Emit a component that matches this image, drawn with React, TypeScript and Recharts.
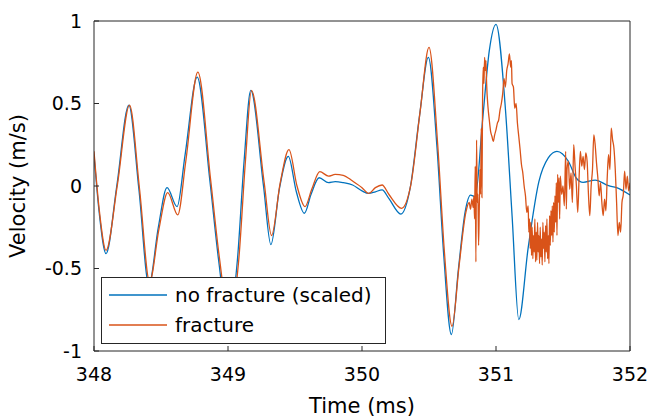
import React from 'react';
import { LineChart, Line, XAxis, YAxis, Legend } from 'recharts';

// [time (ms), velocity (m/s)]
const noFracture: [number, number][] = [
  [348.0, 0.19], [348.04, -0.17], [348.09, -0.41], [348.17, 0.0], [348.26, 0.49],
  [348.335, -0.02], [348.41, -0.6], [348.48, -0.25], [348.545, -0.01], [348.62, -0.125],
  [348.68, 0.19], [348.77, 0.66], [348.865, 0.03], [348.93, -0.45], [349.0, -0.82],
  [349.07, -0.45], [349.12, 0.15], [349.17, 0.58], [349.265, 0.0], [349.32, -0.355],
  [349.385, -0.01], [349.45, 0.18], [349.51, -0.035], [349.57, -0.165], [349.62, -0.05],
  [349.68, 0.05], [349.75, 0.02], [349.8, 0.026], [349.86, 0.02], [349.93, 0.006],
  [350.0, -0.03], [350.05, -0.045], [350.1, -0.035], [350.15, -0.024], [350.2, -0.075],
  [350.29, -0.17], [350.36, -0.01], [350.43, 0.43], [350.495, 0.78], [350.56, 0.23],
  [350.61, -0.42], [350.667, -0.9], [350.72, -0.5], [350.77, -0.155], [350.81, -0.055],
  [350.845, -0.065], [350.9, 0.4], [350.95, 0.82], [351.0, 0.98], [351.07, 0.47],
  [351.12, -0.18], [351.17, -0.81], [351.24, -0.375], [351.32, 0.026], [351.39, 0.17],
  [351.455, 0.21], [351.54, 0.15], [351.6, 0.047], [351.65, 0.022], [351.74, 0.036],
  [351.84, 0.002], [351.9, -0.01], [352.0, -0.055],
];

const fracture: [number, number][] = [
  [348.0, 0.21], [348.04, -0.15], [348.09, -0.39], [348.175, 0.01], [348.265, 0.49],
  [348.34, -0.02], [348.415, -0.58], [348.485, -0.26], [348.55, -0.04], [348.625, -0.175],
  [348.685, 0.15], [348.775, 0.69], [348.87, 0.04], [348.935, -0.43], [349.01, -0.8],
  [349.08, -0.45], [349.13, 0.15], [349.175, 0.58], [349.27, 0.02], [349.325, -0.3],
  [349.39, 0.02], [349.455, 0.22], [349.515, 0.0], [349.575, -0.125], [349.625, -0.02],
  [349.685, 0.087], [349.75, 0.06], [349.8, 0.07], [349.86, 0.065], [349.93, 0.03],
  [350.0, -0.01], [350.05, -0.045], [350.1, -0.01], [350.15, 0.006], [350.2, -0.05],
  [350.295, -0.135], [350.365, 0.01], [350.435, 0.46], [350.5, 0.84], [350.565, 0.25],
  [350.615, -0.4], [350.672, -0.85], [350.725, -0.48], [350.775, -0.16],
  // noisy part after the fracture
  [350.8, -0.1], [350.81, -0.14], [350.82, -0.08], [350.83, -0.13], [350.835, -0.06],
  [350.84, -0.2], [350.845, 0.12], [350.85, -0.46], [350.855, 0.28], [350.86, -0.1],
  [350.865, -0.05], [350.87, -0.36], [350.875, -0.15], [350.88, 0.1], [350.885, -0.05],
  [350.89, 0.35], [350.895, -0.07], [350.9, 0.55], [350.905, 0.72], [350.91, 0.62],
  [350.915, 0.78], [350.92, 0.7], [350.925, 0.76], [350.93, 0.62], [350.94, 0.48],
  [350.95, 0.4], [350.96, 0.33], [350.97, 0.3], [350.98, 0.27], [350.99, 0.31],
  [351.0, 0.34], [351.01, 0.38], [351.02, 0.4], [351.03, 0.46], [351.04, 0.5],
  [351.05, 0.56], [351.06, 0.65], [351.07, 0.6], [351.08, 0.7], [351.09, 0.74],
  [351.1, 0.8], [351.11, 0.72], [351.115, 0.76], [351.12, 0.62], [351.13, 0.6],
  [351.14, 0.47], [351.15, 0.5], [351.16, 0.38], [351.17, 0.3], [351.18, 0.22],
  [351.19, 0.13], [351.2, 0.08], [351.21, 0.0], [351.22, -0.06], [351.23, -0.16],
  [351.24, -0.12], [351.245, -0.28], [351.25, -0.2], [351.255, -0.38], [351.26, -0.22],
  [351.265, -0.42], [351.27, -0.25], [351.275, -0.44], [351.28, -0.3], [351.285, -0.4],
  [351.29, -0.2], [351.295, -0.46], [351.3, -0.28], [351.305, -0.45], [351.31, -0.22],
  [351.315, -0.4], [351.32, -0.3], [351.325, -0.47], [351.33, -0.25], [351.335, -0.43],
  [351.34, -0.32], [351.345, -0.48], [351.35, -0.22], [351.355, -0.38], [351.36, -0.28],
  [351.365, -0.46], [351.37, -0.24], [351.375, -0.4], [351.38, -0.2], [351.385, -0.44],
  [351.39, -0.3], [351.395, -0.47], [351.4, -0.18], [351.405, -0.36], [351.41, -0.15],
  [351.415, -0.3], [351.42, -0.12], [351.425, -0.34], [351.43, -0.1], [351.435, -0.28],
  [351.44, -0.06], [351.445, -0.22], [351.45, 0.02], [351.455, -0.3], [351.46, 0.07],
  [351.465, -0.1], [351.47, 0.05], [351.475, -0.2], [351.48, 0.06], [351.49, -0.05],
  [351.5, 0.0], [351.51, -0.12], [351.52, 0.21], [351.525, -0.14], [351.53, 0.1],
  [351.54, 0.15], [351.55, -0.02], [351.56, 0.08], [351.57, -0.1], [351.58, 0.25],
  [351.59, 0.12], [351.6, 0.0], [351.61, -0.16], [351.62, 0.05], [351.63, 0.21],
  [351.64, 0.12], [351.65, 0.18], [351.66, 0.1], [351.67, 0.2], [351.68, 0.15],
  [351.69, -0.05], [351.7, -0.18], [351.71, 0.0], [351.72, 0.1], [351.73, 0.31],
  [351.74, 0.25], [351.75, 0.14], [351.76, 0.05], [351.77, -0.06], [351.78, 0.02],
  [351.79, -0.1], [351.8, -0.18], [351.81, -0.08], [351.82, -0.15], [351.83, 0.05],
  [351.84, 0.19], [351.85, 0.1], [351.86, 0.35], [351.87, 0.28], [351.88, 0.23],
  [351.89, 0.1], [351.9, -0.1], [351.91, -0.3], [351.92, -0.22], [351.93, -0.28],
  [351.94, -0.1], [351.95, -0.05], [351.96, 0.09], [351.97, -0.02], [351.98, 0.06],
  [351.99, -0.03], [352.0, 0.02],
];

const timeTicks = [348, 349, 350, 351, 352];
const velocityTicks = [-1, -0.5, 0, 0.5, 1];
const seriesNames = ['no fracture (scaled)', 'fracture'];
const seriesColors = ['#0072BD', '#D95319'];

const FONT = "'DejaVu Sans', sans-serif";
const AXIS = '#262626';

const toPoints = (pairs: [number, number][]) => pairs.map(([t, v]) => ({ t, v }));

const renderLegend = () => (
  <div
    style={{
      width: 285,
      height: 67,
      boxSizing: 'border-box',
      border: `1px solid ${AXIS}`,
      background: '#fff',
      fontFamily: FONT,
      fontSize: 20,
      color: '#000',
      paddingTop: 2,
    }}
  >
    {seriesNames.map((name, i) => (
      <div key={name} style={{ display: 'flex', alignItems: 'center', height: 30 }}>
        <svg width={58} height={4} style={{ marginLeft: 7, marginRight: 8 }}>
          <line x1={0} y1={2} x2={58} y2={2} stroke={seriesColors[i]} strokeWidth={1.3} />
        </svg>
        <span style={{ lineHeight: '30px' }}>{name}</span>
      </div>
    ))}
  </div>
);

export default function App() {
  const tickStyle = { fontFamily: FONT, fontSize: 19, fill: '#000' };
  return (
    <div style={{ position: 'absolute', left: 0, top: 0, width: 650, height: 418, background: '#fff' }}>
      <LineChart width={650} height={418} margin={{ top: 20, right: 19, bottom: 0, left: 0 }}>
        <XAxis
          dataKey="t"
          type="number"
          domain={[348, 352]}
          ticks={timeTicks}
          allowDataOverflow
          height={67}
          tickSize={-5}
          tickMargin={22}
          stroke={AXIS}
          tick={tickStyle}
          label={{ value: 'Time (ms)', position: 'insideBottom', offset: 5, fontFamily: FONT, fontSize: 21, fill: '#000' }}
        />
        <XAxis
          xAxisId="top"
          orientation="top"
          dataKey="t"
          type="number"
          domain={[348, 352]}
          ticks={timeTicks}
          height={1}
          tickSize={-5}
          stroke={AXIS}
          tick={false}
        />
        <YAxis
          type="number"
          domain={[-1, 1]}
          ticks={velocityTicks}
          allowDataOverflow
          width={94}
          tickSize={-5}
          tickMargin={17}
          stroke={AXIS}
          tick={tickStyle}
          label={{
            value: 'Velocity (m/s)',
            angle: -90,
            position: 'insideLeft',
            offset: 18,
            style: { textAnchor: 'middle' },
            fontFamily: FONT,
            fontSize: 21,
            fill: '#000',
          }}
        />
        <YAxis
          yAxisId="right"
          orientation="right"
          type="number"
          domain={[-1, 1]}
          ticks={velocityTicks}
          width={1}
          tickSize={-5}
          stroke={AXIS}
          tick={false}
        />
        <Line
          data={toPoints(noFracture)}
          dataKey="v"
          name={seriesNames[0]}
          type="monotone"
          stroke={seriesColors[0]}
          strokeWidth={1.3}
          dot={false}
          isAnimationActive={false}
        />
        <Line
          data={toPoints(fracture)}
          dataKey="v"
          name={seriesNames[1]}
          type="monotone"
          stroke={seriesColors[1]}
          strokeWidth={1.3}
          dot={false}
          isAnimationActive={false}
        />
        <Legend
          layout="horizontal"
          verticalAlign="middle"
          align="center"
          content={renderLegend}
          wrapperStyle={{ left: 101, top: 277, width: 285, height: 67 }}
        />
      </LineChart>
    </div>
  );
}
